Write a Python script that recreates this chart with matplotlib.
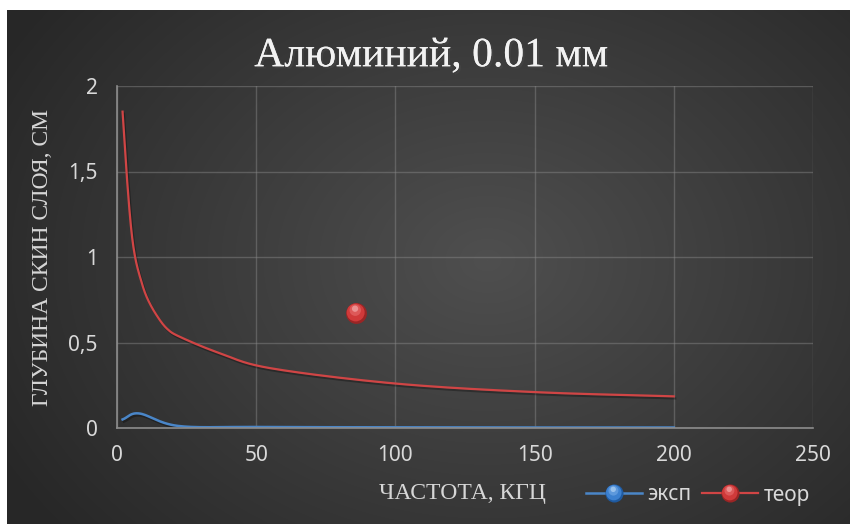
import matplotlib.pyplot as plt
import matplotlib.patheffects as pe
import numpy as np
from matplotlib.lines import Line2D
from matplotlib.markers import MarkerStyle
from matplotlib.transforms import Affine2D

# частота, кГц и глубина скин-слоя, см
f_exp = [2, 8, 22, 50, 100, 150, 200]
d_exp = [0.05, 0.085, 0.012, 0.006, 0.004, 0.003, 0.003]

f_teor = [2, 3.4, 5, 6.5, 8.5, 10.7, 14, 18, 23, 37, 55, 100, 150, 200]
d_teor = [1.85, 1.50, 1.18, 1.00, 0.87, 0.765, 0.665, 0.58, 0.53, 0.437, 0.35,
          0.26, 0.21, 0.185]

f_pt = [86]
d_pt = [0.67]

xticks = [0, 50, 100, 150, 200, 250]
yticks = [0, 0.5, 1, 1.5, 2]
yticklabels = ['0', '0,5', '1', '1,5', '2']

W, H = 850, 524


def smooth(xs, ys, n=30):
    # сглаженная линия как в Excel (Catmull-Rom)
    p = np.column_stack([xs, ys]).astype(float)
    p = np.vstack([2 * p[0] - p[1], p, 2 * p[-1] - p[-2]])
    out = []
    t = np.linspace(0, 1, n)[:, None]
    for i in range(1, len(p) - 2):
        p0, p1, p2, p3 = p[i - 1], p[i], p[i + 1], p[i + 2]
        seg = 0.5 * ((2 * p1) + (-p0 + p2) * t + (2 * p0 - 5 * p1 + 4 * p2 - p3) * t ** 2
                     + (-p0 + 3 * p1 - 3 * p2 + p3) * t ** 3)
        out.append(seg)
    s = np.vstack(out)
    return s[:, 0], s[:, 1]


# слои шарика: (масштаб, сдвиг, прозрачность)
ball_layers = [(1.0, (0, 0), 1.0), (0.86, (-0.04, 0.05), 1.0),
               (0.55, (-0.06, 0.16), 0.45), (0.3, (-0.07, 0.23), 0.6)]


def ball(ax, x, y, cols, ms):
    lines = []
    for (s, (dx, dy), a), c in zip(ball_layers, cols):
        m = MarkerStyle('o', transform=Affine2D().scale(s).translate(dx, dy))
        ln = Line2D(x, y, linestyle='none', marker=m, markersize=ms,
                    markerfacecolor=c, markeredgewidth=0, alpha=a, zorder=5)
        lines.append(ln)
        if ax is not None:
            ax.add_line(ln)
    return lines


red_cols = ['#9a2525', '#d03a3a', '#ee8080', '#f6b8b8']
blue_cols = ['#1f5aa0', '#3c80cf', '#88b8ee', '#c0dcf8']
red = '#d04545'
blue = '#4a86c8'

fig = plt.figure(figsize=(W / 100, H / 100), dpi=100)
fig.patch.set_facecolor('white')

# фон: радиальный градиент
bg = fig.add_axes([7 / W, 0, 1 - 7 / W, (H - 10) / H])
bg.axis('off')
gy, gx = np.mgrid[0:514, 0:843]
r = np.sqrt(((gx - 480) / 560) ** 2 + ((gy - 250) / 430) ** 2)
val = (79 - 40 * np.clip(r, 0, 1)) / 255
bg.imshow(np.dstack([val, val, val]), aspect='auto', extent=(0, 1, 0, 1), zorder=0)
bg.set_xlim(0, 1)
bg.set_ylim(0, 1)

ax = fig.add_axes([117 / W, (H - 428) / H, (813 - 117) / W, (428 - 86) / H])
ax.set_facecolor('none')
ax.set_xlim(0, 250)
ax.set_ylim(0, 2)
ax.set_xticks(xticks)
ax.set_yticks(yticks)
ax.set_yticklabels(yticklabels)
ax.grid(True, color='#8a8a8a', alpha=0.45, linewidth=1)
for side in ['top', 'right']:
    ax.spines[side].set_visible(False)
for side in ['left', 'bottom']:
    ax.spines[side].set_color('#8c8c8c')
    ax.spines[side].set_linewidth(1.2)
ax.tick_params(length=0, colors='#d9d9d9', labelsize=15)
ax.tick_params(axis='y', pad=14)
ax.tick_params(axis='x', pad=12)
for lb in ax.get_xticklabels() + ax.get_yticklabels():
    lb.set_fontfamily('Noto Sans')

shadow = [pe.SimpleLineShadow(offset=(1, -1.5), alpha=0.3), pe.Normal()]

sx, sy = smooth(f_exp, d_exp)
ax.plot(sx, sy, color=blue, lw=1.8, path_effects=shadow)
sx, sy = smooth(f_teor, d_teor)
ax.plot(sx, sy, color=red, lw=1.6, path_effects=shadow)
ball(ax, f_pt, d_pt, red_cols, 15)

fig.text(431 / W, (H - 56) / H, 'Алюминий, 0.01 мм', family='Liberation Serif',
         fontsize=30, color='#f2f2f2', ha='center', va='center',
         path_effects=[pe.withSimplePatchShadow(offset=(1.5, -1.5), alpha=0.5), pe.Normal()])
fig.text(43 / W, (H - 257) / H, 'ГЛУБИНА СКИН СЛОЯ, СМ', family='Liberation Serif',
         fontsize=17, color='#d6d6d6', rotation=90, ha='center', va='center')
fig.text(462 / W, (H - 494) / H, 'ЧАСТОТА, КГЦ', family='Liberation Serif',
         fontsize=17, color='#d6d6d6', ha='center', va='center')

h_exp = tuple([Line2D([], [], color=blue, lw=1.8)] + ball(None, [], [], blue_cols, 13))
h_teor = tuple([Line2D([], [], color=red, lw=1.6)] + ball(None, [], [], red_cols, 13))
fig.legend([h_exp, h_teor], ['эксп', 'теор'], loc='center',
           bbox_to_anchor=(698 / W, (H - 495) / H), ncol=2, frameon=False,
           handlelength=2.7, handletextpad=0.25, columnspacing=0.5,
           prop={'family': 'Noto Sans', 'size': 15}, labelcolor='#d9d9d9')

fig.savefig('out.png', dpi=100, facecolor=fig.get_facecolor())
